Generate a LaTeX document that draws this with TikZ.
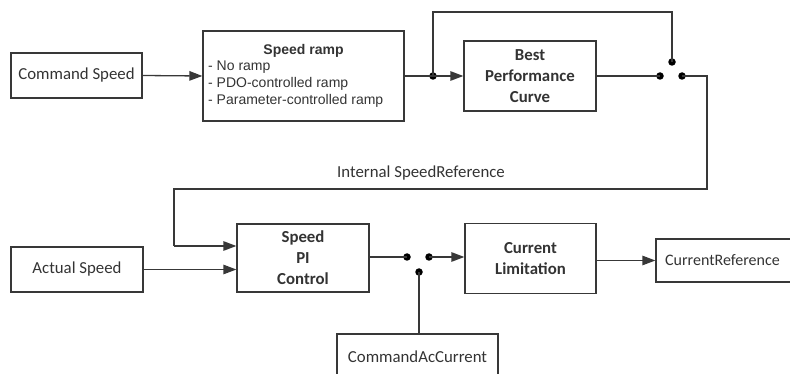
\documentclass[tikz,border=0pt]{standalone}
\usepackage{fontspec}
\setmainfont{Carlito}
\newfontfamily\arialf{Liberation Sans}
\usetikzlibrary{arrows.meta}

\definecolor{ink}{HTML}{333333}
\definecolor{wire}{HTML}{383838}

\tikzset{
  blk/.style={draw=wire, line width=1.3pt, rectangle, inner sep=0pt,
    text=ink, align=center, font=\fontsize{16.8}{21}\selectfont},
  boldblk/.style={blk, font=\bfseries\fontsize{16.8}{21}\selectfont},
  wirel/.style={draw=wire, line width=1.3pt},
  flow/.style={wirel, -{Triangle[length=13pt,width=9.5pt]}},
  contact/.style={circle, fill=black, inner sep=0pt, minimum size=7.5pt},
  lbl/.style={text=ink, font=\fontsize{16.8}{21}\selectfont, inner sep=0pt},
}

\begin{document}
\begin{tikzpicture}[x=1pt,y=-1pt]
\useasboundingbox (0,0) rectangle (790,374);

% blocks
\node[blk, minimum width=131, minimum height=45] (cmd) at (76.5,75.5) {Command Speed};
\node[blk, minimum width=201, minimum height=90] (ramp) at (303.5,76) {};
\node[text=ink, inner sep=0pt, font=\arialf\bfseries\fontsize{14}{17}\selectfont] (ramptitle) at (303.5,51) {Speed ramp};
\node[text=ink, inner sep=0pt, anchor=west, align=left, font=\arialf\fontsize{14}{17}\selectfont] (ramplist) at (208,84)
  {- No ramp\\- PDO-controlled ramp\\- Parameter-controlled ramp};
\node[boldblk, minimum width=132, minimum height=70] (bpc) at (530,76) {Best\\Performance\\Curve};

\node[blk, minimum width=132, minimum height=45] (actual) at (77,269.5) {Actual Speed};
\node[boldblk, minimum width=132, minimum height=68] (pi) at (303,258) {Speed\\PI\\Control};
\node[boldblk, minimum width=131, minimum height=70] (curlim) at (530.5,258.5) {Current\\Limitation};
\node[blk, minimum width=152, minimum height=43] (curref) at (732,260.5) {};
\node[lbl, anchor=west, font=\fontsize{16}{20}\selectfont] (curreftext) at (665,260) {CurrentReference};
\node[blk, minimum width=161, minimum height=52] (cmdac) at (417.5,360) {};
\node[lbl] (cmdactext) at (417.5,357) {CommandAcCurrent};

% switch contacts and junction
\node[contact] (j1) at (433,76) {};
\node[contact] (s1a) at (660,76) {};
\node[contact] (s1b) at (682,76) {};
\node[contact] (s1c) at (672,62) {};
\node[contact] (s2a) at (407,257) {};
\node[contact] (s2b) at (429,257) {};
\node[contact] (s2c) at (419,272) {};

\coordinate (c1) at (433,12);
\coordinate (c2) at (672,12);
\coordinate (c3) at (707,76);
\coordinate (c4) at (707,189);
\coordinate (c5) at (174,189);
\coordinate (c6) at (174,246);

% connectors
\draw[flow] (cmd.east) -- (ramp.west);
\draw[wirel] (ramp.east) -- (j1.center);
\draw[flow] (j1.center) -- (bpc.west);
\draw[wirel] (j1.center) -- (c1) -- (c2) -- (s1c.center);
\draw[wirel] (bpc.east) -- (s1a.center);
\draw[wirel] (s1b.center) -- (c3) -- (c4) -- (c5) -- (c6);
\draw[flow] (c6) -- (c6 -| pi.west);
\draw[flow] (actual.east) -- (actual.east -| pi.west);
\draw[wirel] (pi.east |- s2a) -- (s2a.center);
\draw[flow] (s2b.center) -- (s2b -| curlim.west);
\draw[wirel] (s2c.center) -- (s2c |- cmdac.north);
\draw[flow] (curlim.east |- curref.west) -- (curref.west);

\node[lbl] (intref) at (421,173) {Internal SpeedReference};
\end{tikzpicture}
\end{document}
